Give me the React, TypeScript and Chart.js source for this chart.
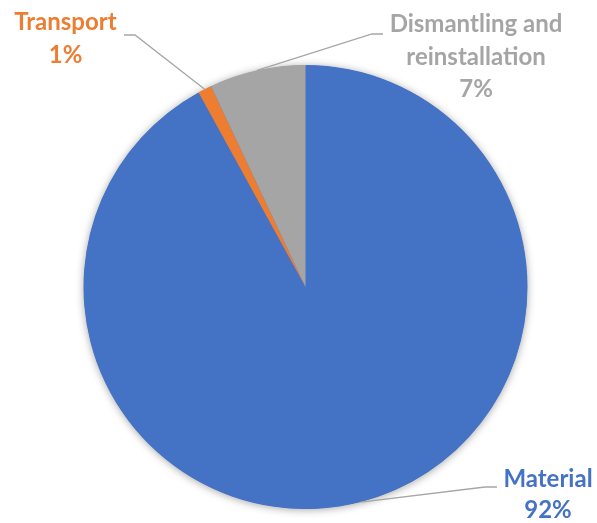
import React, { useEffect, useRef } from "react";
import { Chart, registerables } from "chart.js";

Chart.register(...registerables);

const categories = ["Material", "Transport", "Dismantling and reinstallation"];
const values = [92, 1, 7];
const sliceColors = ["#4472C4", "#ED7D31", "#A5A5A5"];
const labelLines = [["Material", "92%"], ["Transport", "1%"], ["Dismantling and", "reinstallation", "7%"]];

// label layout: center x, first baseline, line gap, leader elbow (x,y), leader tail end x
const labelLayout = [
  { cx: 548, y0: 487, gap: 31, elbowX: 485, elbowY: 487, tailX: 497 },
  { cx: 65.5, y0: 30, gap: 33, elbowX: 135, elbowY: 35, tailX: 124 },
  { cx: 476, y0: 32, gap: 32.5, elbowX: 372, elbowY: 34, tailX: 383 },
];

const FONT = "bold 24px Lato, 'Open Sans', sans-serif";

const shadowPlugin = {
  id: "pieShadow",
  beforeDatasetsDraw(chart: any) {
    const meta = chart.getDatasetMeta(0);
    const arc = meta.data[0];
    if (!arc) return;
    const { x, y, outerRadius } = arc.getProps(["x", "y", "outerRadius"], true);
    const ctx = chart.ctx;
    ctx.save();
    ctx.shadowColor = "rgba(0,0,0,0.38)";
    ctx.shadowBlur = 9;
    ctx.shadowOffsetX = 0;
    ctx.shadowOffsetY = 1;
    ctx.fillStyle = "#4472C4";
    ctx.beginPath();
    ctx.arc(x, y, outerRadius - 0.5, 0, Math.PI * 2);
    ctx.fill();
    ctx.restore();
  },
};

const labelPlugin = {
  id: "pieLabels",
  afterDatasetsDraw(chart: any) {
    const meta = chart.getDatasetMeta(0);
    const ctx = chart.ctx;
    ctx.save();
    meta.data.forEach((arc: any, i: number) => {
      const { x, y, startAngle, endAngle, outerRadius } = arc.getProps(
        ["x", "y", "startAngle", "endAngle", "outerRadius"],
        true
      );
      const mid = (startAngle + endAngle) / 2;
      const ax = x + Math.cos(mid) * outerRadius;
      const ay = y + Math.sin(mid) * outerRadius;
      const L = labelLayout[i];
      ctx.strokeStyle = "#A6A6A6";
      ctx.lineWidth = 1.3;
      ctx.beginPath();
      ctx.moveTo(ax, ay);
      ctx.lineTo(L.elbowX, L.elbowY);
      ctx.lineTo(L.tailX, L.elbowY);
      ctx.stroke();
      ctx.fillStyle = sliceColors[i];
      ctx.font = FONT;
      ctx.textAlign = "center";
      ctx.textBaseline = "alphabetic";
      labelLines[i].forEach((t, k) => {
        ctx.fillText(t, L.cx, L.y0 + k * L.gap);
      });
    });
    ctx.restore();
  },
};

export default function App() {
  const ref = useRef<HTMLCanvasElement | null>(null);
  useEffect(() => {
    document.body.style.margin = "0";
    const canvas = ref.current;
    if (!canvas) return;
    const chart = new Chart(canvas, {
      type: "pie",
      data: {
        labels: categories,
        datasets: [
          {
            data: values,
            backgroundColor: sliceColors,
            borderWidth: 0,
          },
        ],
      },
      options: {
        animation: false,
        responsive: false,
        layout: { padding: { top: 65, bottom: 14, left: 83.5, right: 69.5 } },
        plugins: { legend: { display: false }, tooltip: { enabled: false } },
      },
      plugins: [shadowPlugin, labelPlugin],
    });
    return () => chart.destroy();
  }, []);
  return (
    <div style={{ width: 597, height: 523, background: "#fff" }}>
      <canvas ref={ref} width={597} height={523} style={{ display: "block" }} />
    </div>
  );
}
